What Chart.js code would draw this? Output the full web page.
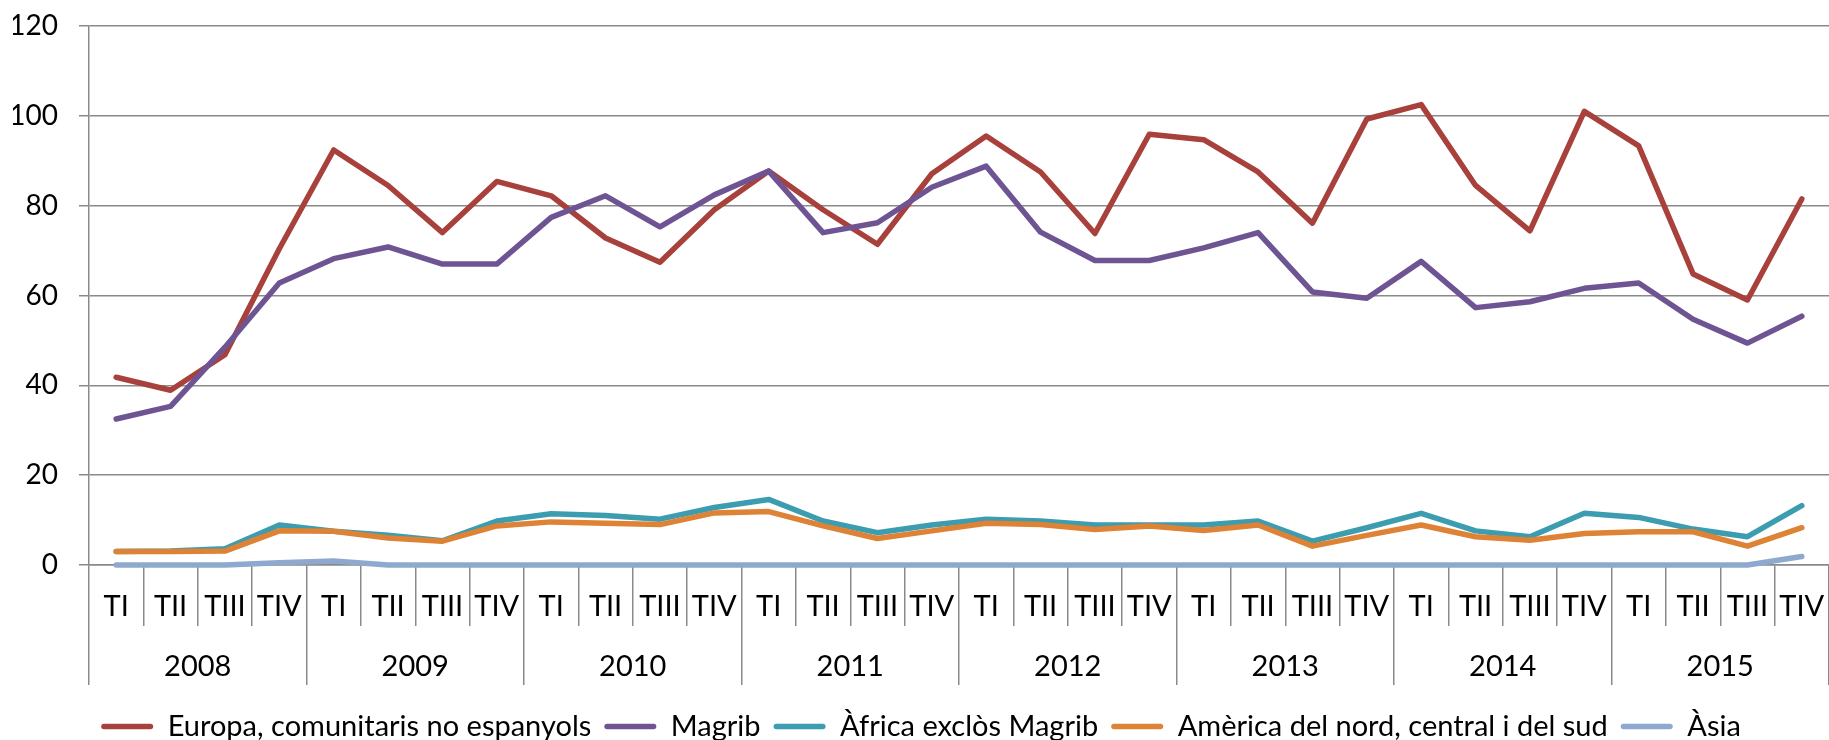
<!DOCTYPE html>
<html>
<head>
    <meta charset="utf-8">
    <title>chart lines</title>
    <script src="https://cdn.jsdelivr.net/npm/chart.js"></script>
    <style>
        body { margin: 0; background: #fff; }
    </style>
</head>
<body>
<canvas id="chartCanvas" width="1829" height="740"></canvas>
<script>
    var anys = ['2008', '2009', '2010', '2011', '2012', '2013', '2014', '2015'];
    var trimestres = ['TI', 'TII', 'TIII', 'TIV'];

    var europa = [41.8, 38.9, 46.8, 70.4, 92.4, 84.5, 74.0, 85.4, 82.2, 72.8, 67.4, 79.1,
        87.7, 79.1, 71.4, 87.1, 95.5, 87.5, 73.8, 95.9, 94.7, 87.5, 76.1, 99.3,
        102.5, 84.5, 74.4, 101.0, 93.3, 64.8, 59.0, 81.5];
    var magrib = [32.5, 35.3, 48.5, 62.8, 68.2, 70.8, 67.0, 67.0, 77.4, 82.2, 75.3, 82.4,
        87.7, 74.0, 76.2, 84.1, 88.8, 74.1, 67.8, 67.8, 70.6, 74.0, 60.8, 59.4,
        67.6, 57.3, 58.6, 61.6, 62.8, 54.7, 49.4, 55.4];
    var africa = [3.0, 3.1, 3.6, 8.9, 7.5, 6.6, 5.4, 9.8, 11.4, 11.0, 10.2, 12.8,
        14.6, 9.8, 7.2, 8.9, 10.2, 9.8, 8.9, 8.9, 8.9, 9.8, 5.3, 8.3,
        11.5, 7.6, 6.3, 11.5, 10.6, 8.0, 6.3, 13.2];
    var america = [3.0, 3.0, 3.1, 7.6, 7.5, 6.0, 5.3, 8.7, 9.6, 9.3, 9.0, 11.6,
        11.9, 8.7, 5.9, 7.6, 9.3, 9.0, 7.9, 8.7, 7.7, 8.9, 4.2, 6.6,
        8.9, 6.3, 5.5, 7.0, 7.4, 7.4, 4.2, 8.3];
    var asia = [0, 0, 0, 0.5, 0.9, 0, 0, 0, 0, 0, 0, 0,
        0, 0, 0, 0, 0, 0, 0, 0, 0, 0, 0, 0,
        0, 0, 0, 0, 0, 0, 0, 1.9];
    var yTicks = [0, 20, 40, 60, 80, 100, 120];

    var etiquetes = [];
    anys.forEach(function(a) {
        trimestres.forEach(function(t) { etiquetes.push(t); });
    });

    var gris = '#8a8a8a';
    var font = 'Lato';

    function serie(label, data, color, ordre) {
        return {
            label: label,
            data: data,
            borderColor: color,
            backgroundColor: color,
            borderWidth: 5.5,
            pointRadius: 0,
            tension: 0,
            fill: false,
            clip: false,
            borderJoinStyle: 'round',
            borderCapStyle: 'round',
            order: ordre
        };
    }

    // boundaries between years (-0.5, 3.5 ...) and year centres (1.5, 5.5 ...)
    function esLimit(v) {
        return Math.abs(((v + 0.5) % 4)) < 0.001;
    }

    // fixed box sizes, so the two label rows sit where the reference has them
    function mida(w, h) {
        return function(axis) {
            if (w) axis.width = w;
            if (h) axis.height = h;
            axis.paddingLeft = 0;
            axis.paddingRight = 0;
            axis.paddingTop = 0;
            axis.paddingBottom = 0;
        };
    }

    var ctx = document.getElementById('chartCanvas').getContext('2d');
    var chart = new Chart(ctx, {
        type: 'line',
        data: {
            labels: etiquetes,
            datasets: [
                serie('Europa, comunitaris no espanyols', europa, '#a8403b', 4),
                serie('Magrib', magrib, '#6e5493', 3),
                serie('Àfrica exclòs Magrib', africa, '#3c9cb0', 2),
                serie('Amèrica del nord, central i del sud', america, '#de8236', 1),
                serie('Àsia', asia, '#8ea8d0', 0)
            ]
        },
        options: {
            responsive: false,
            animation: false,
            events: [],
            layout: { padding: { top: 26, left: 13, right: 0, bottom: -11 } },
            scales: {
                y: {
                    min: 0,
                    max: 120,
                    afterBuildTicks: function(axis) {
                        axis.ticks = yTicks.map(function(v) { return { value: v }; });
                    },
                    afterFit: mida(76, 0),
                    ticks: { color: '#000', padding: 21, font: { family: font, size: 28 } },
                    grid: { color: gris, lineWidth: 1.5, tickLength: 10 },
                    border: { color: gris, width: 1.5 }
                },
                x: {
                    type: 'category',
                    offset: true,
                    weight: 0,
                    afterFit: mida(0, 61),
                    ticks: {
                        color: '#000', padding: -36.5, autoSkip: false, maxRotation: 0,
                        font: { family: font, size: 29 }
                    },
                    grid: { offset: true, drawOnChartArea: false, color: gris, lineWidth: 1.5, tickLength: 61 },
                    border: { color: gris, width: 1.5 }
                },
                xAny: {
                    type: 'linear',
                    position: 'bottom',
                    weight: 1,
                    min: -0.5,
                    max: 31.5,
                    afterBuildTicks: function(axis) {
                        var t = [];
                        for (var v = -0.5; v <= 31.5; v += 2) t.push({ value: v });
                        axis.ticks = t;
                    },
                    afterFit: mida(0, 73),
                    ticks: {
                        color: '#000', padding: -35.5, autoSkip: false, maxRotation: 0,
                        font: { family: font, size: 29 },
                        callback: function(v) {
                            if (esLimit(v)) return '';
                            return anys[Math.round((v - 1.5) / 4)];
                        }
                    },
                    grid: {
                        drawOnChartArea: false,
                        lineWidth: 1.5,
                        tickLength: 59,
                        color: function(c) { return c.tick && esLimit(c.tick.value) ? gris : 'rgba(0,0,0,0)'; },
                        tickColor: function(c) { return c.tick && esLimit(c.tick.value) ? gris : 'rgba(0,0,0,0)'; }
                    },
                    border: { display: false }
                }
            },
            plugins: {
                tooltip: { enabled: false },
                legend: {
                    position: 'bottom',
                    labels: {
                        color: '#000',
                        font: { family: font, size: 29 },
                        boxWidth: 52,
                        boxHeight: 5.5,
                        padding: 13,
                        sort: function(a, b) { return a.datasetIndex - b.datasetIndex; },
                        generateLabels: function(ch) {
                            var items = Chart.defaults.plugins.legend.labels.generateLabels(ch);
                            items.forEach(function(it) {
                                it.fillStyle = it.strokeStyle;
                                it.lineWidth = 0;
                                it.borderRadius = 2.75;
                            });
                            return items;
                        }
                    }
                }
            }
        }
    });
</script>
</body>
</html>
